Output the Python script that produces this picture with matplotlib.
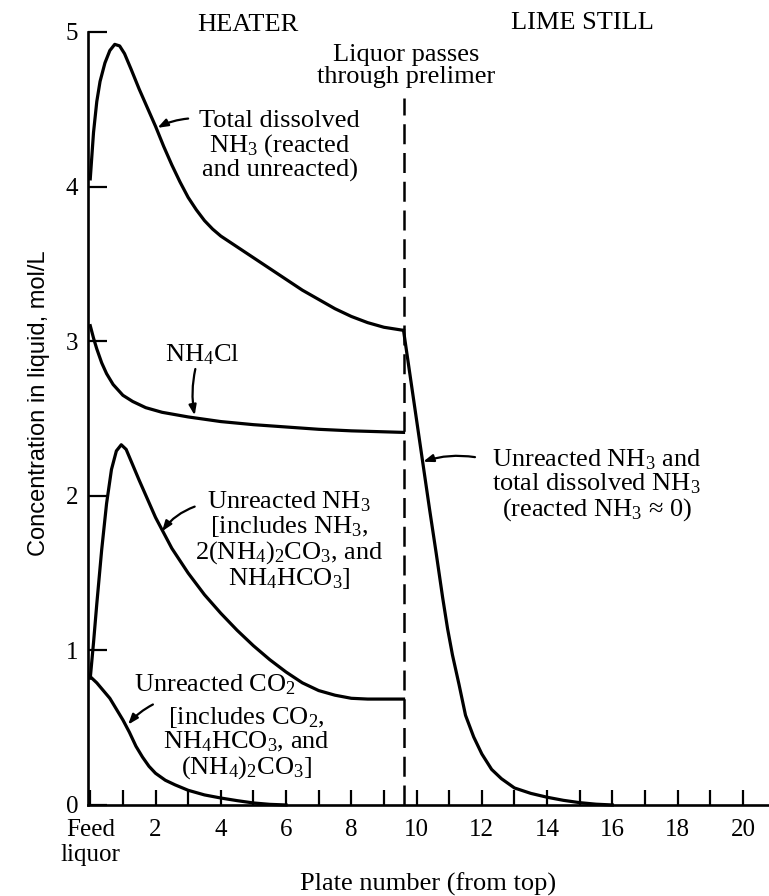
import matplotlib
matplotlib.use("Agg")
import matplotlib.pyplot as plt

# Plate positions (0 = feed liquor) and concentrations, mol/L
total_x = [0.0, 0.1, 0.2, 0.3, 0.45, 0.6, 0.75, 0.9, 1.05, 1.25, 1.5, 1.75, 2.0, 2.25,
           2.5, 2.75, 3.0, 3.25, 3.5, 3.75, 4.0, 4.5, 5.0, 5.5, 6.0, 6.5, 7.0, 7.5, 8.0, 8.5, 9.0, 9.6]
total_y = [4.05, 4.35, 4.55, 4.68, 4.8, 4.88, 4.92, 4.91, 4.86, 4.76, 4.63, 4.51, 4.39, 4.26,
           4.14, 4.03, 3.93, 3.85, 3.78, 3.725, 3.68, 3.61, 3.54, 3.47, 3.40, 3.33, 3.27, 3.21,
           3.16, 3.12, 3.09, 3.07]

nh4cl_x = [0.0, 0.1, 0.2, 0.35, 0.5, 0.7, 1.0, 1.3, 1.7, 2.2, 3.0, 4.0, 5.0, 6.0, 7.0, 8.0, 9.6]
nh4cl_y = [3.10, 3.02, 2.95, 2.86, 2.79, 2.72, 2.65, 2.61, 2.57, 2.54, 2.51, 2.48, 2.46, 2.445,
           2.43, 2.42, 2.41]

nh3_x = [0.0, 0.1, 0.2, 0.35, 0.5, 0.65, 0.8, 0.95, 1.1, 1.3, 1.5, 1.75, 2.0, 2.25, 2.5, 3.0,
         3.5, 4.0, 4.5, 5.0, 5.5, 6.0, 6.5, 7.0, 7.5, 8.0, 8.5, 9.6]
nh3_y = [0.82, 1.05, 1.3, 1.65, 1.95, 2.17, 2.29, 2.33, 2.3, 2.2, 2.1, 1.98, 1.86, 1.76, 1.66, 1.50,
         1.36, 1.24, 1.13, 1.03, 0.94, 0.86, 0.79, 0.74, 0.71, 0.69, 0.685, 0.685]

co2_x = [0.0, 0.2, 0.4, 0.6, 0.8, 1.0, 1.2, 1.4, 1.6, 1.8, 2.0, 2.3, 2.6, 3.0, 3.5, 4.0, 4.5, 5.0, 5.5, 6.0]
co2_y = [0.83, 0.79, 0.74, 0.69, 0.62, 0.55, 0.47, 0.38, 0.31, 0.25, 0.205, 0.16, 0.13, 0.095,
         0.065, 0.045, 0.028, 0.013, 0.004, 0.0]

still_x = [9.6, 9.8, 10.0, 10.2, 10.4, 10.6, 10.8, 10.95, 11.1, 11.3, 11.5, 11.75, 12.0, 12.3,
           12.6, 13.0, 13.5, 14.0, 14.5, 15.0, 15.5, 16.0]
still_y = [3.07, 2.78, 2.49, 2.20, 1.91, 1.63, 1.34, 1.14, 0.97, 0.78, 0.58, 0.44, 0.33, 0.23,
           0.17, 0.11, 0.075, 0.05, 0.03, 0.015, 0.005, 0.0]

prelimer_x = 9.6
x_ticks = list(range(0, 21))
x_labels = ["Feed\nliquor" if t == 0 else (str(t) if t % 2 == 0 else "") for t in x_ticks]
y_ticks = [0, 1, 2, 3, 4, 5]

plt.rcParams["font.family"] = ["Liberation Serif", "DejaVu Serif"]
plt.rcParams["mathtext.fontset"] = "custom"
plt.rcParams["mathtext.rm"] = "Liberation Serif"
plt.rcParams["mathtext.it"] = "Liberation Serif:italic"

fig = plt.figure(figsize=(7.69, 8.96), dpi=100)
ax = fig.add_axes([0.1144, 0.1016, 0.8856, 0.8627])

lw = 2.3
for xs, ys in [(total_x, total_y), (nh4cl_x, nh4cl_y), (nh3_x, nh3_y),
               (co2_x, co2_y), (still_x, still_y)]:
    ax.plot(xs, ys, color="black", lw=lw, solid_joinstyle="round", clip_on=False)

# prelimer boundary
ax.plot([prelimer_x, prelimer_x], [0, 4.57], color="black", lw=1.8, dashes=(8, 3.5))

ax.set_xlim(-0.07, 20.8)
ax.set_ylim(0, 5)
ax.spines["top"].set_visible(False)
ax.spines["right"].set_visible(False)
ax.spines["left"].set_linewidth(1.9)
ax.spines["bottom"].set_linewidth(1.9)

ax.set_xticks(x_ticks)
ax.set_xticklabels(x_labels)
ax.set_yticks(y_ticks)
ax.tick_params(axis="x", direction="in", length=11, width=1.6, pad=10, labelsize=18)
ax.tick_params(axis="y", direction="in", length=14, width=1.6, pad=7, labelsize=18)

ax.set_xlabel("Plate number (from top)", fontsize=19)
ax.xaxis.set_label_coords(0.5, -0.088)
ax.set_ylabel("Concentration in liquid, mol/L", fontsize=17, family="Liberation Sans")
ax.yaxis.set_label_coords(-0.056, 0.52)

fs = 19
# section headers
ax.text(4.83, 5.045, "HEATER", fontsize=fs, ha="center", va="center", clip_on=False)
ax.text(15.08, 5.06, "LIME STILL", fontsize=fs, ha="center", va="center", clip_on=False)
ax.text(9.67, 4.78, "Liquor passes\nthrough prelimer", fontsize=fs, ha="center", va="center",
        linespacing=1.0, clip_on=False)

arrow = dict(arrowstyle="-|>,head_length=0.6,head_width=0.22", color="black", lw=1.6,
             shrinkA=0, shrinkB=0)

ax.text(5.81, 4.26, "Total dissolved\nNH$_3$ (reacted\nand unreacted)", fontsize=fs,
        ha="center", va="center", linespacing=1.0)
ax.annotate("", xy=(2.06, 4.38), xytext=(3.0, 4.44),
            arrowprops=dict(arrow, connectionstyle="arc3,rad=0.1"))

ax.text(3.43, 2.91, "NH$_4$Cl", fontsize=fs, ha="center", va="center")
ax.annotate("", xy=(3.2, 2.52), xytext=(3.22, 2.82),
            arrowprops=dict(arrow, connectionstyle="arc3,rad=0.1"))

ax.text(6.09, 1.71, "Unreacted NH$_3$\n[includes NH$_3$,\n2(NH$_4$)$_2$CO$_3$, and\nNH$_4$HCO$_3$]",
        fontsize=fs, ha="center", va="center", linespacing=1.0)
ax.annotate("", xy=(2.2, 1.77), xytext=(3.2, 1.93),
            arrowprops=dict(arrow, connectionstyle="arc3,rad=0.15"))

ax.text(3.82, 0.776, "Unreacted CO$_2$", fontsize=fs, ha="center", va="center")
ax.text(4.8, 0.40, "[includes CO$_2$,\nNH$_4$HCO$_3$, and\n(NH$_4$)$_2$CO$_3$]",
        fontsize=fs, ha="center", va="center", linespacing=1.0)
ax.annotate("", xy=(1.16, 0.52), xytext=(1.92, 0.65),
            arrowprops=dict(arrow, connectionstyle="arc3,rad=0.1"))

ax.text(15.52, 2.07, "Unreacted NH$_3$ and\ntotal dissolved NH$_3$\n(reacted NH$_3$ \u2248 0)",
        fontsize=fs, ha="center", va="center", linespacing=1.0)
ax.annotate("", xy=(10.2, 2.22), xytext=(11.79, 2.25),
            arrowprops=dict(arrow, connectionstyle="arc3,rad=0.12"))

fig.savefig("out.png", dpi=100)
